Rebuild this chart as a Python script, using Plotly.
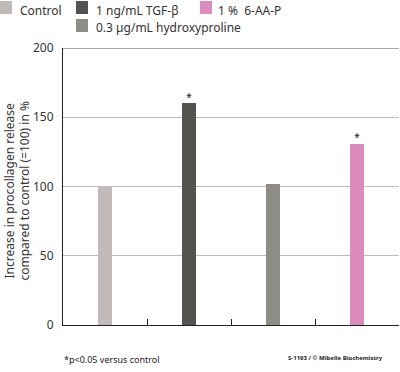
import plotly.graph_objects as go

categories = ["Control", "1 ng/mL TGF-β", "0.3 µg/mL hydroxyproline", "1 %  6-AA-P"]
values = [100, 160, 102, 131]
significant = [False, True, False, True]
colors = ["#c1bab8", "#53544f", "#8f8c88", "#dc8bbd"]
y_ticks = [0, 50, 100, 150, 200]

FONT = "Noto Sans"
L, T, PW, PH = 63, 48, 336, 277


def px_x(x):
    return (x - L) / PW


def px_y(y):
    return (T + PH - y) / PH


fig = go.Figure()
fig.add_trace(go.Bar(
    x=categories, y=values, marker=dict(color=colors, line=dict(width=0)),
    width=0.167, showlegend=False, hoverinfo="skip",
))
sig_x = [c for c, s in zip(categories, significant) if s]
sig_y = [v + 3.5 for v, s in zip(values, significant) if s]
fig.add_trace(go.Scatter(
    x=sig_x, y=sig_y, mode="text", text=["*"] * len(sig_x),
    textposition="middle center", textfont=dict(family=FONT, size=10, color="#111"),
    showlegend=False, hoverinfo="skip",
))

shapes = []
annotations = []
# (swatch left, swatch top, text left, text center y)
pos_map = {0: (0, 1, 18, 10), 1: (76, 1, 94, 10), 2: (76, 19, 94, 27), 3: (200, 1, 216, 10)}
for i, cat in enumerate(categories):
    sx, sy, tx, ty = pos_map[i]
    shapes.append(dict(type="rect", xref="paper", yref="paper",
                       x0=px_x(sx), x1=px_x(sx + 12),
                       y0=px_y(sy + 13), y1=px_y(sy),
                       fillcolor=colors[i], line=dict(width=0)))
    annotations.append(dict(text=cat, xref="paper", yref="paper",
                            x=px_x(tx), y=px_y(ty),
                            xanchor="left", yanchor="middle", showarrow=False,
                            font=dict(family=FONT, size=12, color="#333")))

shapes.append(dict(type="line", xref="paper", yref="y", x0=0, x1=1, y0=200, y1=200,
                   line=dict(color="#555", width=1)))

annotations.append(dict(text="Increase in procollagen release<br>compared to control (=100) in %",
                        xref="paper", yref="paper", x=px_x(16.5), y=px_y(191),
                        xanchor="center", yanchor="middle", textangle=-90, showarrow=False,
                        font=dict(family=FONT, size=12, color="#333")))
annotations.append(dict(text="*p<0.05 versus control", xref="paper", yref="paper",
                        x=px_x(62), y=px_y(359), xanchor="left", yanchor="middle",
                        showarrow=False, font=dict(family=FONT, size=9, color="#222")))
annotations.append(dict(text="<b>S-1193 / © Mibelle Biochemistry</b>", xref="paper", yref="paper",
                        x=px_x(385), y=px_y(358), xanchor="right", yanchor="middle",
                        showarrow=False, font=dict(family=FONT, size=6, color="#222")))

fig.update_layout(
    width=400, height=372,
    margin=dict(l=L, r=400 - L - PW, t=T, b=372 - T - PH),
    paper_bgcolor="white", plot_bgcolor="white",
    font=dict(family=FONT, size=12, color="#333"),
    shapes=shapes, annotations=annotations,
    bargap=0,
    xaxis=dict(
        type="category", range=[-0.5, 3.5], showticklabels=False,
        showline=True, linecolor="#222", linewidth=1.2,
        ticks="inside", ticklen=6, tickcolor="#222", tickson="boundaries",
        showgrid=False, zeroline=False,
    ),
    yaxis=dict(
        range=[0, 200], tickvals=y_ticks, showline=True, linecolor="#222", linewidth=1.2,
        showgrid=True, gridcolor="#bdbdbd", gridwidth=1, zeroline=False,
        ticks="", ticklabelstandoff=6,
        tickfont=dict(family=FONT, size=12, color="#333"),
    ),
)

fig.write_html("out.html", config={"displayModeBar": False},
               post_script="document.body.style.margin='0';")
